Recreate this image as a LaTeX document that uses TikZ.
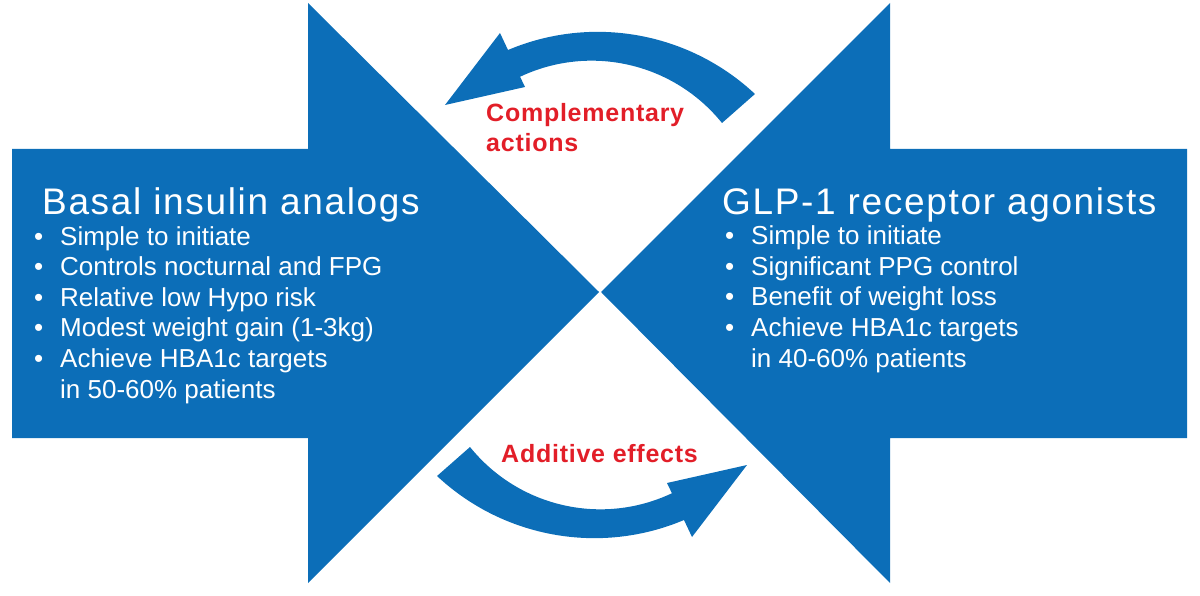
\documentclass[tikz,border=0pt]{standalone}
\usepackage{fontspec}
\setmainfont{Liberation Sans}
\newfontfamily\titlefont{Liberation Sans}[LetterSpace=4.5]
\newfontfamily\redfont{Liberation Sans}[LetterSpace=3]
\definecolor{arrowblue}{RGB}{12,110,184}
\definecolor{labelred}{RGB}{226,30,40}
\newcommand{\bul}{\llap{\textbullet\hspace{17pt}}}
% curved arrow, drawn once below and once turned round above
\newcommand{\swoosh}{(470,447) arc[start angle=141.1,end angle=64.7,radius=167.5]
  -- (667,483) -- (747,465) -- (692,537) -- (684,520)
  arc[start angle=67.1,end angle=133.1,radius=230.3] -- cycle}
\tikzset{
  heading/.style={anchor=base west,inner sep=0pt,text=white,
    font=\titlefont\fontsize{37}{37}\selectfont},
  points/.style={anchor=base west,inner sep=0pt,text=white,align=left,
    font=\fontsize{26}{30.6}\selectfont},
  effect/.style={anchor=base west,inner sep=0pt,text=labelred,align=left,
    font=\redfont\bfseries\fontsize{25}{30}\selectfont},
}
\begin{document}
\begin{tikzpicture}[x=1pt,y=-1pt]
  \useasboundingbox (0,0) rectangle (1200,596);
  % the two big arrows
  \fill[arrowblue] (12,149)--(308,149)--(308,3)--(599,292)--(308,583)--(308,438)--(12,438)--cycle;
  \fill[arrowblue] (1187,149)--(890,149)--(890,3)--(601,292)--(890,583)--(890,438)--(1187,438)--cycle;
  % curved arrows
  \fill[arrowblue] \swoosh;
  \fill[arrowblue,rotate around={180:(596,285)}] \swoosh;
  % texts (a node of several lines sits on its last line)
  \node[heading] (basaltitle) at (42,215) {Basal insulin analogs};
  \node[points] (basallist) at (60,398) {\bul Simple to initiate\\
    \bul Controls nocturnal and FPG\\
    \bul Relative low Hypo risk\\
    \bul Modest weight gain (1-3kg)\\
    \bul Achieve HBA1c targets\\
    in 50-60\% patients};
  \node[heading] (glptitle) at (722,215) {GLP-1 receptor agonists};
  \node[points] (glplist) at (751,367) {\bul Simple to initiate\\
    \bul Significant PPG control\\
    \bul Benefit of weight loss\\
    \bul Achieve HBA1c targets\\
    in 40-60\% patients};
  \node[effect] (complab) at (486,152) {Complementary\\actions};
  \node[effect] (addlab) at (501,462) {Additive effects};
\end{tikzpicture}
\end{document}
